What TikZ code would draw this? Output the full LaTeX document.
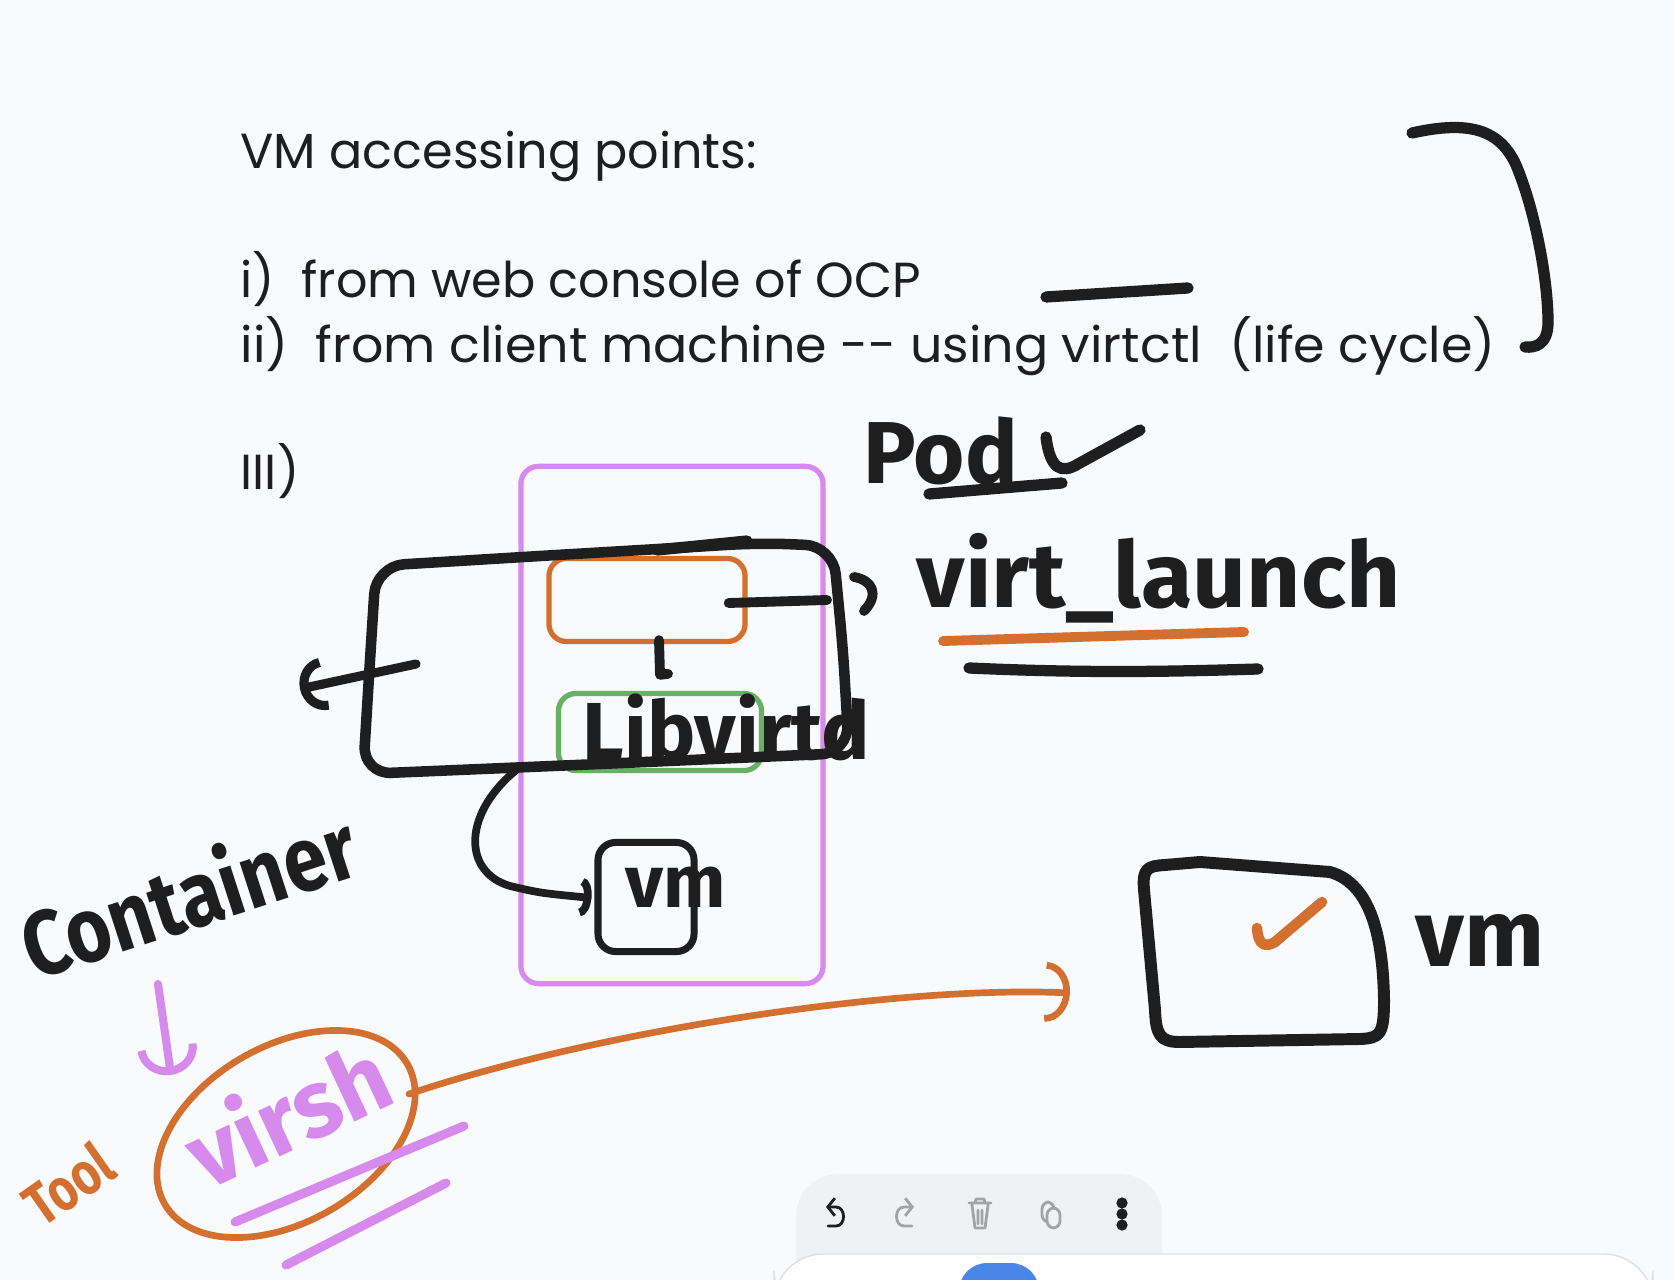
\documentclass[tikz,border=0pt]{standalone}
\usepackage{fontspec}
\setmainfont{Fira Sans}
\newfontfamily\notefont{Poppins}
\usetikzlibrary{arrows.meta,positioning,calc}
\definecolor{ink}{HTML}{1E1E1E}
\definecolor{marker}{HTML}{D4702F}
\definecolor{lilac}{HTML}{D68BEC}
\definecolor{leaf}{HTML}{67B064}
\definecolor{paper}{HTML}{F9FAFC}
\definecolor{barbg}{HTML}{F0F1F3}
\definecolor{icongray}{HTML}{A3A3A3}
\definecolor{tabblue}{HTML}{4A86E8}
\begin{document}
\begin{tikzpicture}[x=0.01cm, y=-0.01cm,
  typed/.style={anchor=base west, inner sep=0pt, text=ink,
    font=\notefont\fontsize{14}{17}\selectfont},
  hand/.style={inner sep=0pt, text=ink, font=\bfseries},
  pen/.style={draw=ink, line width=3.2pt, line cap=round, line join=round},
  fineink/.style={draw=ink, line width=2.2pt, line cap=round, line join=round},
  orangeink/.style={draw=marker, line width=1.9pt, line cap=round, line join=round},
  lilacink/.style={draw=lilac, line width=2.3pt, line cap=round, line join=round},
  frame/.style={draw=#1, line width=1.5pt, rounded corners=5pt, inner sep=0pt},
  icon/.style={draw=icongray, line width=0.8pt, line cap=round, line join=round}
]
  \useasboundingbox (0,0) rectangle (1674,1280);
  \fill[paper] (0,0) rectangle (1674,1280);

  \node[typed] (title) at (240,169) {VM accessing points:};
  \node[typed] (way1) at (240,298) {i)\ \ from web console of OCP};
  \node[typed, xscale=1.03] (way2) at (240,363) {ii)\ \ from client machine -{}- using virtctl\ \ (life cycle)};
  \node[typed] (way3) at (240,490) {III)};
  \draw[pen] (1046,297) -- (1188,288);
  \draw[pen] (1412,133) .. controls (1470,120) and (1500,130) .. (1516,165)
    .. controls (1535,210) and (1548,280) .. (1548,322)
    .. controls (1548,345) and (1535,348) .. (1525,347);

  \node[frame=lilac, minimum width=3.02cm, minimum height=5.17cm] (pod) at (672,725) {};
  \node[frame=marker, minimum width=1.96cm, minimum height=0.83cm] (launcher) at (647,600) {};
  \node[frame=leaf, minimum width=2.03cm, minimum height=0.77cm] (libvirt) at (660,732) {};
  \node[frame=ink, line width=2pt, minimum width=0.96cm, minimum height=1.09cm] (guest) at (646,897) {};

  \node[hand, anchor=base west, font=\bfseries\fontsize{25}{28}\selectfont] (podlabel) at (863,484) {Pod};
  \draw[pen] (929,494) -- (1062,483);
  \draw[pen] (1046,437) .. controls (1050,470) and (1062,474) .. (1078,464) -- (1140,430);

  \node[hand, anchor=base west, xscale=1.03, font=\bfseries\fontsize{26}{28}\selectfont] (launchlabel) at (916,608) {virt\_launch};
  \draw[orangeink, line width=2.8pt] (943,641) -- (1244,632);
  \draw[pen] (969,668) .. controls (1080,673) and (1160,672) .. (1258,669);

  \draw[pen, line width=3pt, rounded corners=8pt] (376,566) -- (540,556) -- (760,543) -- (833,546)
    -- (843,650) -- (849,753) -- (600,764) -- (363,774) -- (370,660) -- cycle;
  \draw[pen] (657,550) -- (747,541);
  \coordinate (grip) at (416,664);
  \draw[fineink, line width=2.6pt, -{Arc Barb[width=15pt, length=7pt]}] (grip) -- (300,689);

  \draw[pen, line width=2.8pt] ($(launcher.east)+(-19,3)$) -- (827,600);
  \draw[pen, line width=2.8pt] (854,577) .. controls (872,580) and (880,594) .. (864,611);
  \draw[pen, line width=2.8pt] ($(launcher.south)+(12,-4)$) -- ($(libvirt.north)+(0,-16)$) -- ++(8,-1);

  \node[hand, anchor=base west, font=\bfseries\fontsize{23}{26}\selectfont] (libvirtlabel) at (582,760) {Libvirtd};

  \coordinate (tap) at (520,767);
  \draw[fineink, -{Arc Barb[width=11pt, length=3pt]}] (tap) .. controls (462,812) and (462,872) .. (510,886)
    .. controls (540,893) .. ($(guest.west)+(-3,1)$);
  \node[hand, anchor=base west, font=\bfseries\fontsize{21}{24}\selectfont] (guestlabel) at (625,907) {vm};

  \node[hand, rotate=18, xscale=0.85, font=\bfseries\fontsize{26}{30}\selectfont] (containerlabel) at (188,893) {Container};
  \coordinate (hint) at (158,984);
  \draw[lilacink, -{Arc Barb[width=17pt, length=8pt]}] (hint) -- (171,1075);

  \draw[orangeink] (286,1134) ellipse [x radius=1.4cm, y radius=0.88cm, rotate=30];
  \node[hand, text=lilac, rotate=25, font=\bfseries\fontsize{27}{30}\selectfont] (virshlabel) at (287,1112) {virsh};
  \draw[lilacink, line width=2.6pt] (235,1222) -- (464,1126);
  \draw[lilacink, line width=2.6pt] (286,1265) -- (446,1183);
  \node[hand, text=marker, rotate=35, xscale=0.8, font=\bfseries\fontsize{17}{20}\selectfont] (toollabel) at (68,1184) {Tool};

  \coordinate (ringout) at (409,1094);
  \draw[orangeink, -{Arc Barb[width=17pt, length=7pt]}] (ringout) .. controls (600,1030) and (900,985) .. (1070,993);

  \draw[pen, line width=3.4pt] (1200,862) -- (1330,872) .. controls (1372,884) and (1383,940) .. (1384,1000)
    .. controls (1384,1035) and (1380,1038) .. (1360,1039) -- (1180,1042)
    .. controls (1160,1042) and (1156,1035) .. (1155,1010) -- (1144,890)
    .. controls (1142,868) and (1148,866) .. (1165,865) -- cycle;
  \draw[orangeink, line width=3pt] (1257,928) .. controls (1258,945) and (1265,948) .. (1275,942) -- (1322,902);
  \node[hand, anchor=base west, font=\bfseries\fontsize{27}{30}\selectfont] (vmlabel) at (1415,966) {vm};

  \fill[barbg, rounded corners=12pt] (796,1174) rectangle (1162,1300);
  \draw[ink, line width=0.8pt, line cap=round, -{Straight Barb[length=2pt, width=5pt]}]
    (828,1226) -- (836,1226) .. controls (846,1226) and (846,1207) .. (836,1207) -- (826,1207);
  \draw[icon, -{Straight Barb[length=2pt, width=5pt]}]
    (912,1226) -- (904,1226) .. controls (894,1226) and (894,1207) .. (904,1207) -- (914,1207);
  \draw[icon] (969,1203) -- (991,1203) (975,1203) -- (976,1199) -- (984,1199) -- (985,1203)
    (972,1205) -- (975,1228) -- (985,1228) -- (988,1205) (978,1210) -- (978,1224) (982,1210) -- (982,1224);
  \draw[icon, rounded corners=2pt] (1042,1202) rectangle (1054,1222);
  \filldraw[icon, fill=barbg, rounded corners=2pt] (1047,1208) rectangle (1060,1228);
  \foreach \dy in {1203,1214,1225}
    \fill[ink] (1122,\dy) circle (1.6pt);
  \filldraw[fill=white, draw=gray!25, rounded corners=14pt] (774,1254) rectangle (1653,1320);
  \fill[tabblue, rounded corners=8pt] (959,1263) rectangle (1039,1320);
\end{tikzpicture}
\end{document}
